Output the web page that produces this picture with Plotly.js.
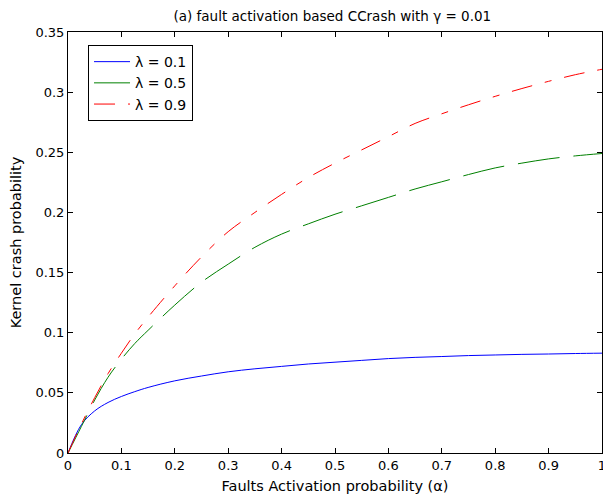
<!DOCTYPE html>
<html>
<head>
<meta charset="utf-8">
<script src="https://cdn.plot.ly/plotly-3.0.1.min.js"></script>
<style>html,body{margin:0;padding:0;background:#fff;}#chart{width:603px;height:499px;}</style>
</head>
<body>
<div id="chart"></div>
<script>
const alpha = [0, 0.025, 0.05, 0.075, 0.1, 0.125, 0.15, 0.2, 0.25, 0.3, 0.35, 0.4, 0.45, 0.5, 0.55, 0.6, 0.65, 0.7, 0.75, 0.8, 0.85, 0.9, 0.95, 1.0];
const lambda01 = [0, 0.0235, 0.035, 0.042, 0.047, 0.051, 0.0545, 0.060, 0.064, 0.0675, 0.070, 0.072, 0.074, 0.0755, 0.077, 0.0785, 0.0795, 0.0802, 0.081, 0.0815, 0.082, 0.0823, 0.0827, 0.083];
const lambda05 = [0, 0.022, 0.044, 0.063, 0.078, 0.091, 0.102, 0.123, 0.142, 0.157, 0.171, 0.182, 0.1905, 0.1985, 0.2055, 0.2125, 0.2195, 0.2255, 0.2315, 0.237, 0.241, 0.2445, 0.247, 0.249];
const lambda09 = [0, 0.024, 0.046, 0.066, 0.083, 0.099, 0.113, 0.139, 0.163, 0.184, 0.200, 0.215, 0.229, 0.241, 0.252, 0.263, 0.274, 0.282, 0.2895, 0.2965, 0.303, 0.309, 0.3145, 0.319];
const seriesNames = ['λ = 0.1', 'λ = 0.5', 'λ = 0.9'];
const xTickVals = [0, 0.1, 0.2, 0.3, 0.4, 0.5, 0.6, 0.7, 0.8, 0.9, 1];
const xTickText = ['0', '0.1', '0.2', '0.3', '0.4', '0.5', '0.6', '0.7', '0.8', '0.9', '1'];
const yTickVals = [0, 0.05, 0.1, 0.15, 0.2, 0.25, 0.3, 0.35];
const yTickText = ['0', '0.05', '0.1', '0.15', '0.2', '0.25', '0.3', '0.35'];

const font = 'DejaVu Sans, Liberation Sans, Arial, sans-serif';

const traces = [
  {x: alpha, y: lambda01, name: seriesNames[0], type: 'scatter', mode: 'lines',
   line: {color: '#0000ff', width: 1, shape: 'spline'}},
  {x: alpha, y: lambda05, name: seriesNames[1], type: 'scatter', mode: 'lines',
   line: {color: '#008000', width: 1, shape: 'spline', dash: '42px,14px'}},
  {x: alpha, y: lambda09, name: seriesNames[2], type: 'scatter', mode: 'lines',
   line: {color: '#ff0000', width: 1, shape: 'spline', dash: '21px,13px,7px,13px'}}
];

const axisCommon = {
  showline: true, linecolor: '#000', linewidth: 1, mirror: 'ticks',
  ticks: 'inside', ticklen: 5, tickcolor: '#000', tickwidth: 1,
  showgrid: false, zeroline: false, ticklabeloverflow: 'allow',
  tickfont: {family: font, size: 13, color: '#000'}
};

const layout = {
  width: 603, height: 499,
  margin: {l: 68, r: 1, t: 32, b: 46, pad: 0},
  paper_bgcolor: '#fff', plot_bgcolor: '#fff',
  font: {family: font, color: '#000'},
  title: {text: '(a) fault activation based CCrash with γ = 0.01',
          font: {family: font, size: 13.5, color: '#000'},
          x: 0.495, xanchor: 'center', xref: 'paper', y: 1 - 16/499, yanchor: 'middle', yref: 'container'},
  xaxis: Object.assign({}, axisCommon, {
    range: [0, 1], tickmode: 'array', tickvals: xTickVals, ticktext: xTickText,
    title: {text: 'Faults Activation probability (α)', font: {family: font, size: 14.5, color: '#000'}, standoff: 9}
  }),
  yaxis: Object.assign({}, axisCommon, {
    range: [0, 0.35], tickmode: 'array', tickvals: yTickVals, ticktext: yTickText,
    title: {text: 'Kernel crash probability', font: {family: font, size: 14.5, color: '#000'}, standoff: 10}
  }),
  showlegend: true,
  legend: {x: 0.0375, y: 0.969, xanchor: 'left', yanchor: 'top',
           bordercolor: '#000', borderwidth: 1, bgcolor: '#fff',
           font: {family: font, size: 14, color: '#000'},
           tracegroupgap: 0, itemwidth: 36}
};

Plotly.newPlot('chart', traces, layout, {displayModeBar: false, staticPlot: true});
</script>
</body>
</html>
